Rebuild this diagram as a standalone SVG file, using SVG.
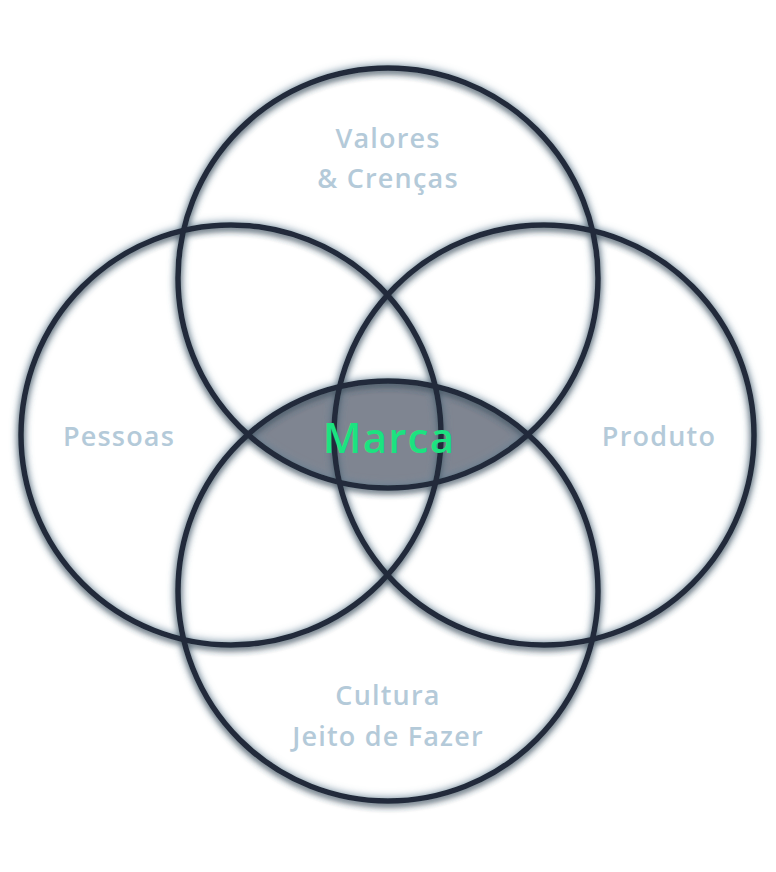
<svg xmlns="http://www.w3.org/2000/svg" width="776" height="872" viewBox="0 0 776 872">
  <defs>
    <filter id="glow" x="-10%" y="-10%" width="120%" height="120%">
      <feGaussianBlur in="SourceAlpha" stdDeviation="4" result="b"/>
      <feFlood flood-color="#6f8ba0" flood-opacity="1"/>
      <feComposite in2="b" operator="in" result="g"/>
      <feGaussianBlur in="SourceAlpha" stdDeviation="3" result="b2"/>
      <feOffset in="b2" dy="3" result="o"/>
      <feFlood flood-color="#22272e" flood-opacity="0.7"/>
      <feComposite in2="o" operator="in" result="s"/>
      <feMerge>
        <feMergeNode in="g"/>
        <feMergeNode in="s"/>
        <feMergeNode in="SourceGraphic"/>
      </feMerge>
    </filter>
    <style>
      .ring { fill: none; stroke: #222c3b; stroke-width: 5.5; }
      .lbl { font-family: "Open Sans", "Noto Sans", "DejaVu Sans", sans-serif; font-size: 27px; font-weight: 600; fill: #b4cad9; text-anchor: middle; letter-spacing: 1.2px; }
      .center { font-family: "Open Sans", "Noto Sans", "DejaVu Sans", sans-serif; font-size: 42px; font-weight: 600; fill: #1ce380; text-anchor: middle; letter-spacing: 1.2px; }
    </style>
  </defs>
  <rect width="776" height="872" fill="#ffffff"/>
  <g id="marca-lens">
    <path d="M 248,434.5 A 210 210 0 0 1 528,434.5 A 210 210 0 0 1 248,434.5 Z" fill="#7f8591"/>
  </g>
  <g id="connectors" filter="url(#glow)">
    <circle id="c-top" class="ring" cx="388" cy="278" r="210"/>
    <circle id="c-left" class="ring" cx="231" cy="435" r="210"/>
    <circle id="c-right" class="ring" cx="544" cy="435" r="210"/>
    <circle id="c-bottom" class="ring" cx="388" cy="591" r="210"/>
  </g>
  <g id="valores">
    <text class="lbl" x="388" y="148">Valores</text>
    <text class="lbl" x="388" y="188">&amp; Crenças</text>
  </g>
  <g id="pessoas">
    <text class="lbl" x="119" y="446">Pessoas</text>
  </g>
  <g id="produto">
    <text class="lbl" x="659" y="446">Produto</text>
  </g>
  <g id="cultura">
    <text class="lbl" x="388" y="705">Cultura</text>
    <text class="lbl" x="388" y="746">Jeito de Fazer</text>
  </g>
  <g id="marca">
    <text class="center" x="389" y="453">Marca</text>
  </g>
</svg>
